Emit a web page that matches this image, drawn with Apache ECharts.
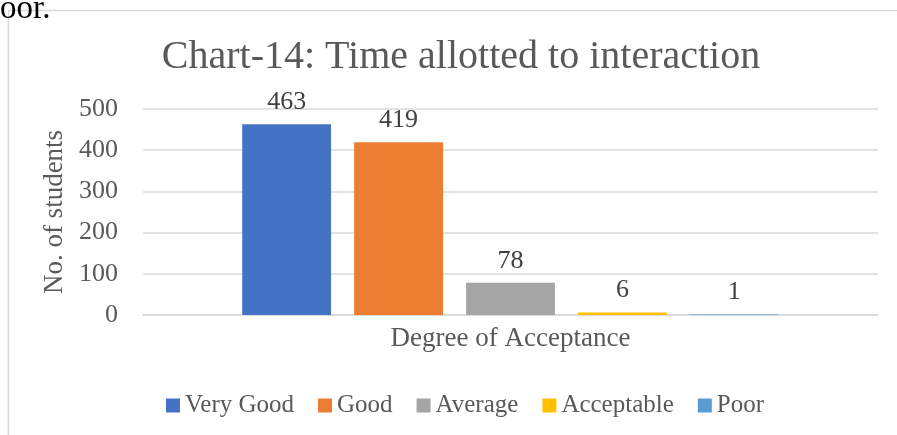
<!DOCTYPE html>
<html>
<head>
<meta charset="utf-8">
<script src="https://cdn.jsdelivr.net/npm/echarts@6/dist/echarts.min.js"></script>
<style>
  html, body { margin: 0; padding: 0; background: #fff; }
  #chart { width: 897px; height: 435px; }
</style>
</head>
<body>
<div id="chart"></div>
<script>
const categories = ['Degree of Acceptance']
const seriesNames = ['Very Good', 'Good', 'Average', 'Acceptable', 'Poor']
const seriesValues = [463, 419, 78, 6, 1]
const colors = ['#4472C4', '#ED7D31', '#A5A5A5', '#FFC000', '#5B9BD5']
const yTicks = [0, 100, 200, 300, 400, 500]

const font = 'Liberation Serif'
const chart = echarts.init(document.getElementById('chart'))

const option = {
  animation: false,
  backgroundColor: '#fff',
  textStyle: { fontFamily: font },
  title: {
    text: 'Chart-14: Time allotted to interaction',
    left: 456,
    textAlign: 'center',
    top: 32,
    textStyle: { fontFamily: font, fontSize: 40, fontWeight: 'normal', color: '#595959' }
  },
  legend: {
    bottom: 12,
    left: 161,
    itemWidth: 14,
    itemHeight: 14,
    itemGap: 24,
    icon: 'rect',
    textStyle: { fontFamily: font, fontSize: 25, color: '#595959' },
    data: seriesNames
  },
  grid: { left: 143, right: 19, top: 109, bottom: 120 },
  xAxis: {
    type: 'category',
    data: categories,
    axisLine: { lineStyle: { color: '#d9d9d9', width: 1.5 } },
    axisTick: { show: false },
    axisLabel: { fontFamily: font, fontSize: 27, color: '#595959', margin: 10 }
  },
  yAxis: {
    type: 'value',
    min: yTicks[0],
    max: yTicks[yTicks.length - 1],
    interval: 100,
    name: 'No. of students',
    nameLocation: 'middle',
    nameGap: 71,
    nameTextStyle: { fontFamily: font, fontSize: 27, color: '#595959' },
    axisLine: { show: false },
    axisTick: { show: false },
    axisLabel: { fontFamily: font, fontSize: 26, color: '#595959', margin: 25 },
    splitLine: { lineStyle: { color: '#d9d9d9', width: 1.5 } }
  },
  series: seriesNames.map((name, i) => ({
    name: name,
    type: 'bar',
    data: [seriesValues[i]],
    barGap: '26%',
    barCategoryGap: '27%',
    itemStyle: { color: colors[i] },
    label: {
      show: true,
      position: 'top',
      distance: 9,
      fontFamily: font,
      fontSize: 26,
      color: '#404040'
    }
  })),
  graphic: [
    { type: 'line', shape: { x1: 8, y1: 10.5, x2: 897, y2: 10.5 }, style: { stroke: '#d9d9d9', lineWidth: 1.5 } },
    { type: 'line', shape: { x1: 8.5, y1: 10, x2: 8.5, y2: 435 }, style: { stroke: '#d9d9d9', lineWidth: 1.5 } },
    { type: 'text', left: 0, top: -7, style: { text: 'oor.', font: '33px "Liberation Serif"', fill: '#000' } }
  ]
}

chart.setOption(option)
</script>
</body>
</html>
